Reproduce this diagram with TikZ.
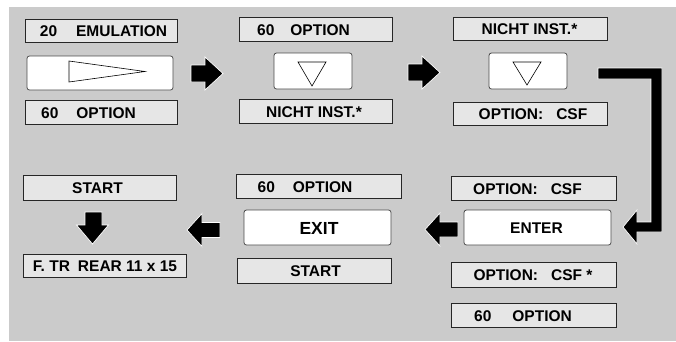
\documentclass[tikz,border=0pt]{standalone}
\usepackage{fontspec}
\setmainfont{Liberation Sans}
\begin{document}
\begin{tikzpicture}[x=1pt,y=-1pt,
  lbl/.style={draw=black!85,line width=0.8pt,fill=lblgray,inner sep=0pt,rectangle},
  big/.style={draw=black!70,line width=0.8pt,fill=white,inner sep=0pt,rounded corners=2.5pt,rectangle},
  txt/.style={inner sep=0pt,font=\fontsize{15.5}{17}\selectfont\bfseries},
  bigtxt/.style={inner sep=0pt,font=\fontsize{17.5}{19}\selectfont\bfseries},
  blk/.style={fill=black,draw=white,line width=0.7pt,line join=miter},
  tri/.style={draw=black,line width=0.6pt,fill=white}]
\definecolor{bggray}{HTML}{CBCBCB}
\definecolor{lblgray}{HTML}{E6E6E6}
\useasboundingbox (0,0) rectangle (676,341);
\fill[bggray] (9,7) rectangle (676,341);
% column 1
\node[lbl,minimum width=152,minimum height=23] (a1) at (101,30.5) {};
\node[txt] (a1t) at ([xshift=2.5pt,yshift=-1pt]a1.center) {20\hspace{19pt}EMULATION};
\node[big,minimum width=146,minimum height=34] (a2) at (100,73) {};
\draw[tri] (69,61) -- (69,82) -- (145,71.5) -- cycle;
\node[lbl,minimum width=152,minimum height=24] (a3) at (101,112) {};
\node[txt] (a3t) at ([xshift=-12.5pt,yshift=-1pt]a3.center) {60\hspace{18pt}OPTION};
% column 2
\node[lbl,minimum width=153,minimum height=24] (b1) at (315.5,29) {};
\node[txt] (b1t) at ([xshift=-12pt,yshift=-1pt]b1.center) {60\hspace{16pt}OPTION};
\node[big,minimum width=78,minimum height=36] (b2) at (313,71) {};
\draw[tri] (298,62) -- (326,62) -- (312,86) -- cycle;
\node[lbl,minimum width=153,minimum height=24] (b3) at (315.5,111) {};
\node[txt] (b3t) at ([xshift=-1.5pt,yshift=-1pt]b3.center) {NICHT INST.*};
% column 3
\node[lbl,minimum width=154,minimum height=23] (c1) at (530,28.5) {};
\node[txt] (c1t) at ([xshift=-0.5pt,yshift=-1pt]c1.center) {NICHT INST.*};
\node[big,minimum width=78,minimum height=36] (c2) at (528,71) {};
\draw[tri] (513,62) -- (541,62) -- (527,85) -- cycle;
\node[lbl,minimum width=154,minimum height=23] (c3) at (530,113.5) {};
\node[txt] (c3t) at ([xshift=3pt,yshift=-1pt]c3.center) {OPTION:\hspace{13pt}CSF};
% bottom left
\node[lbl,minimum width=153,minimum height=25] (d1) at (99.5,187.5) {};
\node[txt] (d1t) at ([xshift=-2pt,yshift=-1pt]d1.center) {START};
\node[lbl,minimum width=163,minimum height=23] (d2) at (104.5,265.5) {};
\node[txt] (d2t) at ([xshift=0.5pt,yshift=-1pt]d2.center) {F. TR\hspace{8pt}REAR 11 x 15};
% bottom middle
\node[lbl,minimum width=165,minimum height=24] (e1) at (318.5,186) {};
\node[txt] (e1t) at ([xshift=-13.5pt,yshift=-1pt]e1.center) {60\hspace{18pt}OPTION};
\node[big,minimum width=147,minimum height=35] (e2) at (317.5,227.5) {};
\node[bigtxt] (e2t) at ([xshift=1.5pt,yshift=-1pt]e2.center) {EXIT};
\node[lbl,minimum width=154,minimum height=25] (e3) at (314,270.5) {};
\node[txt] (e3t) at ([xshift=1.5pt,yshift=-1pt]e3.center) {START};
% bottom right
\node[lbl,minimum width=165,minimum height=24] (f1) at (533.5,188) {};
\node[txt] (f1t) at ([xshift=-6pt,yshift=-1pt]f1.center) {OPTION:\hspace{13pt}CSF};
\node[big,minimum width=147,minimum height=35] (f2) at (537.5,227.5) {};
\node[txt] (f2t) at ([xshift=-1pt,yshift=-1pt]f2.center) {ENTER};
\node[lbl,minimum width=165,minimum height=25] (f3) at (533.5,274.5) {};
\node[txt] (f3t) at ([xshift=-0.5pt,yshift=-1pt]f3.center) {OPTION:\hspace{13pt}CSF *};
\node[lbl,minimum width=165,minimum height=24] (f4) at (533.5,315) {};
\node[txt] (f4t) at ([xshift=-10.5pt,yshift=-1pt]f4.center) {60\hspace{21pt}OPTION};
% block arrows
\filldraw[blk] (191,65) -- (205,65) -- (205,57) -- (223,73.5) -- (205,90) -- (205,82) -- (191,82) -- cycle;
\filldraw[blk] (408,64) -- (422,64) -- (422,56) -- (440,72.5) -- (422,89) -- (422,81) -- (408,81) -- cycle;
\filldraw[blk] (598,68) -- (662,68) -- (662,232) -- (637,232) -- (637,244) -- (623,227) -- (637,210) -- (637,222) -- (651,222) -- (651,79) -- (598,79) -- cycle;
\filldraw[blk] (458,222) -- (440,222) -- (440,213) -- (425,229.5) -- (440,246) -- (440,237) -- (458,237) -- cycle;
\filldraw[blk] (220,222.5) -- (202,222.5) -- (202,213.5) -- (187,230) -- (202,246.5) -- (202,237.5) -- (220,237.5) -- cycle;
\filldraw[blk] (85,212) -- (102,212) -- (102,225) -- (108.5,225) -- (92.5,244) -- (76.5,225) -- (85,225) -- cycle;
\end{tikzpicture}
\end{document}
